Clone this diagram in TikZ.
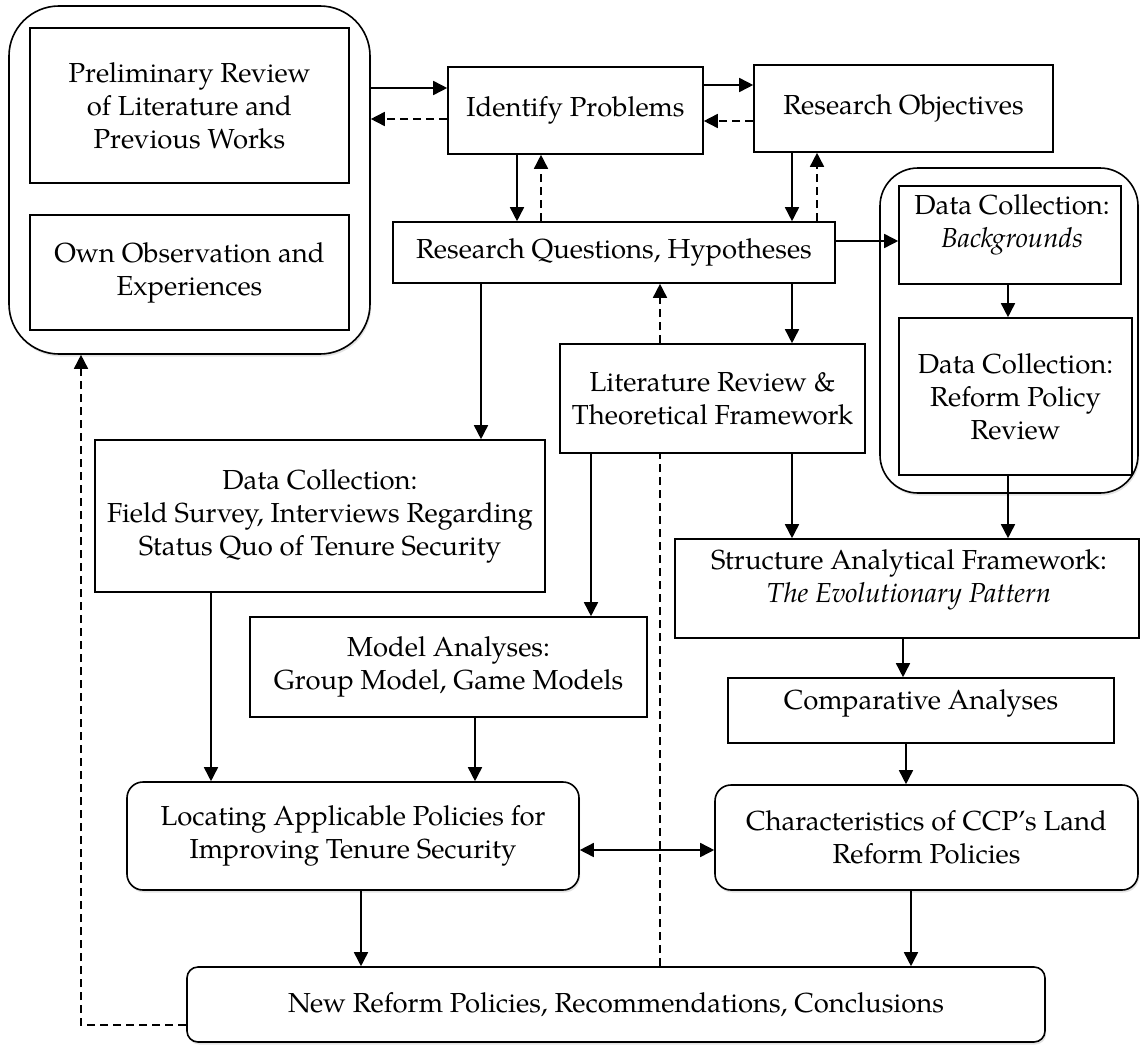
\documentclass[tikz,border=0pt]{standalone}
\usepackage{fontspec}
\setmainfont{TeX Gyre Pagella}
\usetikzlibrary{arrows.meta,shadows}

\begin{document}
\begin{tikzpicture}[x=1pt,y=-1pt,
  font=\fontsize{27.5}{33}\selectfont,
  box/.style={draw, line width=1.6pt, fill=white, align=center, inner sep=0pt},
  shade/.style={drop shadow={shadow xshift=1.2pt, shadow yshift=-2.5pt, opacity=0.22}},
  rbox/.style={box, rounded corners=16pt, shade},
  grpbox/.style={draw, line width=1.6pt, fill=white, rounded corners=#1, shade},
  txt/.style={align=center, inner sep=0pt},
  tip/.tip={Triangle[length=14pt,width=14pt]},
  arr/.style={-tip, line width=1.6pt},
  darr/.style={arr, dash pattern=on 8pt off 5pt},
  dbl/.style={tip-tip, line width=1.6pt},
]
\fill[white] (0,0) rectangle (1140,1044);
\useasboundingbox (0,0) rectangle (1140,1044);

% ---- groups ----
\node[grpbox=50pt, minimum width=361pt, minimum height=348pt] (grp) at (189.5,180) {};
\node[grpbox=38pt, minimum width=258pt, minimum height=325pt] (grpR) at (1009,330.5) {};

% ---- boxes ----
\node[box, minimum width=319pt, minimum height=155pt] (prelim) at (189.5,105.5)
  {Preliminary Review\\of Literature and\\Previous Works};
\node[box, minimum width=319pt, minimum height=115pt] (own) at (189.5,272.5)
  {Own Observation and\\Experiences};
\node[box, minimum width=255pt, minimum height=87pt] (idf) at (575.5,110.5) {Identify Problems};
\node[box, minimum width=299pt, minimum height=87pt] (ro) at (903.5,108.5) {Research Objectives};
\node[box, minimum width=442pt, minimum height=61pt] (rq) at (614,252.5) {Research Questions, Hypotheses};

\node[box, minimum width=222pt, minimum height=98pt] (bg) at (1010,235) {};
\node[txt] (bgtxt) at (1012,225) {Data Collection:\\\textit{Backgrounds}};
\node[box, minimum width=233pt, minimum height=157pt] (reform) at (1015.5,396.5)
  {Data Collection:\\Reform Policy\\Review};

\node[box, minimum width=305pt, minimum height=109pt] (lit) at (712.5,398.5)
  {Literature Review \&\\Theoretical Framework};
\node[box, minimum width=450pt, minimum height=152pt] (field) at (320,516)
  {Data Collection:\\Field Survey, Interviews Regarding\\Status Quo of Tenure Security};

\node[box, minimum width=464pt, minimum height=99pt] (struct) at (907,588.5) {};
\node[txt] (structtxt) at (909,580) {Structure Analytical Framework:\\\textit{The Evolutionary Pattern}};
\node[box, minimum width=397pt, minimum height=100pt] (model) at (448.5,667)
  {Model Analyses:\\Group Model, Game Models};
\node[box, minimum width=386pt, minimum height=65pt] (comp) at (921,710.5) {};
\node[txt] (comptxt) at (921,703) {Comparative Analyses};

\node[rbox, minimum width=452pt, minimum height=108pt] (loc) at (353,836)
  {Locating Applicable Policies for\\Improving Tenure Security};
\node[rbox, minimum width=423pt, minimum height=105pt] (chr) at (926.5,837.5)
  {Characteristics of CCP’s Land\\Reform Policies};
\node[box, rounded corners=11pt, shade, minimum width=858pt, minimum height=75pt] (bot) at (616,1004.5)
  {New Reform Policies, Recommendations, Conclusions};

% ---- connectors: top row ----
\draw[arr]  (grp.east |- 0,88)  -- (idf.west |- 0,88);
\draw[darr] (idf.west |- 0,119) -- (grp.east |- 0,119);
\draw[arr]  (idf.east |- 0,85)  -- (ro.west |- 0,85);
\draw[darr] (ro.west |- 0,121)  -- (idf.east |- 0,121);

\draw[arr]  (idf.south -| 517,0) -- (rq.north -| 517,0);
\draw[darr] (rq.north -| 541,0)  -- (idf.south -| 541,0);
\draw[arr]  (ro.south -| 792,0)  -- (rq.north -| 792,0);
\draw[darr] (rq.north -| 817,0)  -- (ro.south -| 817,0);

% ---- connectors: middle ----
\draw[arr] (rq.east |- 0,241) -- (bg.west |- 0,241);
\draw[arr] (bg.south -| 1008,0) -- (reform.north -| 1008,0);
\draw[arr] (reform.south -| 1008,0) -- (struct.north -| 1008,0);
\draw[arr] (rq.south -| 792,0) -- (lit.north -| 792,0);
\draw[arr] (rq.south -| 481,0) -- (field.north -| 481,0);
\draw[arr] (lit.south -| 591,0) -- (model.north -| 591,0);
\draw[arr] (lit.south -| 792,0) -- (struct.north -| 792,0);
\draw[dash pattern=on 8pt off 5pt, line width=1.6pt] (bot.north -| 660,0) -- (lit.south -| 660,0);
\draw[darr] (lit.north -| 660,0) -- (rq.south -| 660,0);
\draw[arr] (struct.south -| 903,0) -- (comp.north -| 903,0);
\draw[arr] (comp.south -| 906,0) -- (chr.north -| 906,0);

% ---- connectors: lower ----
\draw[arr] (field.south -| 211,0) -- (loc.north -| 211,0);
\draw[arr] (model.south -| 475,0) -- (loc.north -| 475,0);
\draw[dbl] (loc.east |- 0,850) -- (chr.west |- 0,850);
\draw[arr] (loc.south -| 361,0) -- (bot.north -| 361,0);
\draw[arr] (chr.south -| 911,0) -- (bot.north -| 911,0);
\draw[darr] (bot.west |- 0,1025) -| (grp.south -| 81,0);
\end{tikzpicture}
\end{document}
